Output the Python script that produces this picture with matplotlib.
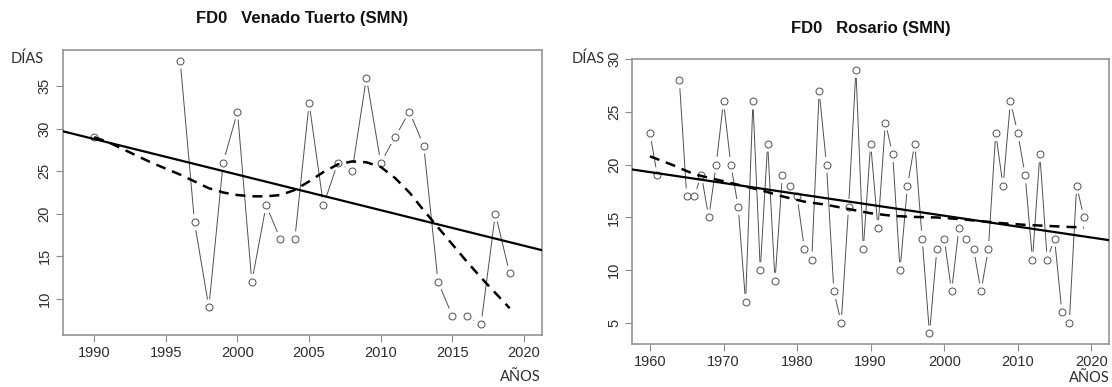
import numpy as np
import matplotlib
matplotlib.use("Agg")
import matplotlib.pyplot as plt
from matplotlib.collections import LineCollection

# FD0 (days per year) - Venado Tuerto (SMN)
vt_years = [1990] + list(range(1996, 2020))
vt_days = [29, 38, 19, 9, 26, 32, 12, 21, 17, 17, 33, 21, 26, 25, 36,
           26, 29, 32, 28, 12, 8, 8, 7, 20, 13]
# smoothed curve, one value per year
vt_smooth_years = list(range(1990, 2020))
vt_smooth = [29.0, 28.4, 27.6, 26.8, 26.0, 25.3, 24.6, 23.8, 23.0, 22.5,
             22.2, 22.05, 22.05, 22.2, 22.8, 23.8, 24.9, 25.8, 26.15, 26.05,
             25.5, 24.2, 22.5, 20.4, 18.4, 16.4, 14.4, 12.5, 10.7, 8.9]

# FD0 (days per year) - Rosario (SMN)
ros_years = [1960, 1961] + list(range(1964, 2020))
ros_days = [23, 19, 28, 17, 17, 19, 15, 20, 26, 20, 16, 7, 26, 10, 22, 9,
            19, 18, 17, 12, 11, 27, 20, 8, 5, 16, 29, 12, 22, 14, 24, 21,
            10, 18, 22, 13, 4, 12, 13, 8, 14, 13, 12, 8, 12, 23, 18, 26,
            23, 19, 11, 21, 11, 13, 6, 5, 18, 15]
ros_smooth_years = [1960, 1963, 1966, 1969, 1972, 1975, 1978, 1981, 1984,
                    1987, 1990, 1993, 1996, 1999, 2002, 2005, 2008, 2011,
                    2014, 2017, 2019]
ros_smooth = [20.8, 20.0, 19.1, 18.6, 18.1, 17.6, 17.0, 16.5, 16.2, 15.8,
              15.4, 15.15, 15.05, 15.0, 14.85, 14.65, 14.45, 14.3, 14.2,
              14.1, 14.05]

GRAY = "#8c8c8c"
TXT = "#2e2e2e"
plt.rcParams["font.family"] = ["Liberation Sans", "DejaVu Sans"]

fig = plt.figure(figsize=(11.12, 3.87), dpi=100)


def series_b(ax, x, y, gap=8.0):
    # lines between consecutive years, broken around each point
    pts = ax.transData.transform(np.column_stack([x, y]))
    inv = ax.transData.inverted()
    segs = []
    for i in range(len(x) - 1):
        if x[i + 1] - x[i] != 1:
            continue
        d = pts[i + 1] - pts[i]
        L = np.hypot(*d)
        if L <= 2 * gap:
            continue
        u = d / L
        segs.append(inv.transform([pts[i] + u * gap, pts[i + 1] - u * gap]))
    ax.add_collection(LineCollection(segs, colors="#505050", linewidths=0.7,
                                     zorder=2))
    ax.plot(x, y, ls="none", marker="o", ms=5.0, mfc="white", mec="#5a5a5a",
            mew=0.75, zorder=3)


def panel(rect, years, days, sm_x, sm_y, xlim, ylim, xticks, yticks, title,
          title_y, dias_xy, anos_xy):
    ax = fig.add_axes(rect)
    ax.set_xlim(*xlim)
    ax.set_ylim(*ylim)
    series_b(ax, years, days)

    coef = np.polyfit(years, days, 1)
    ax.axline((years[0], np.polyval(coef, years[0])), slope=coef[0],
              color="black", lw=1.6, zorder=4)
    ax.plot(sm_x, sm_y, color="black", lw=1.8, ls=(0, (4, 2.8)), zorder=4)

    ax.set_xticks(xticks)
    ax.set_yticks(yticks)
    ax.tick_params(direction="out", length=5, width=0.8, color=GRAY,
                   labelsize=10.5, labelcolor=TXT, pad=3)
    for lab in ax.get_yticklabels():
        lab.set_rotation(90)
        lab.set_va("center")
    for sp in ax.spines.values():
        sp.set_color(GRAY)
        sp.set_linewidth(1.1)

    cx = rect[0] + rect[2] / 2
    fig.text(cx, title_y, title, ha="center", va="center", fontsize=12,
             fontweight="bold", color="#111111")
    fig.text(*dias_xy, "DÍAS", ha="left", va="center", fontsize=10.5,
             color=TXT, family=["Lato", "DejaVu Sans"])
    fig.text(*anos_xy, "AÑOS", ha="right", va="center", fontsize=10.5,
             color=TXT, family=["Lato", "DejaVu Sans"])
    return ax


panel([0.0564, 0.1344, 0.4308, 0.7364], vt_years, vt_days,
      vt_smooth_years, vt_smooth, (1987.8, 2021.24), (5.76, 39.24),
      range(1990, 2021, 5), range(10, 36, 5),
      "FD0   Venado Tuerto (SMN)", 1 - 18 / 387,
      (11 / 1112, 1 - 59 / 387), (541 / 1112, 1 - 377 / 387))

panel([0.5686, 0.1111, 0.4287, 0.7357], ros_years, ros_days,
      ros_smooth_years, ros_smooth, (1957.6, 2022.4), (3, 30),
      range(1960, 2021, 10), range(5, 31, 5),
      "FD0   Rosario (SMN)", 1 - 28 / 387,
      (572 / 1112, 1 - 59 / 387), (1110 / 1112, 1 - 378 / 387))

fig.savefig("out.png", dpi=100)
